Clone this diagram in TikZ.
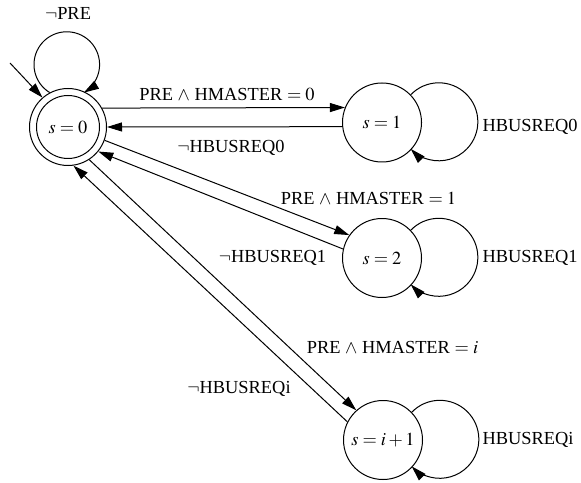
\documentclass[tikz,border=0pt]{standalone}
\usepackage{mathptmx}
\usepackage{fontspec}
\setmainfont{Liberation Serif}
\usetikzlibrary{arrows.meta}
\begin{document}
\begin{tikzpicture}[x=0.5pt,y=0.5pt,
  line width=0.5pt,
  every node/.style={font=\fontsize{9.2pt}{11pt}\selectfont},
  state/.style={circle,draw,line width=0.5pt,minimum size=39.5pt,inner sep=0pt},
  tip/.style={-{Triangle[length=7.5pt,width=4.5pt]}},
  lbl/.style={inner sep=0pt}]
\useasboundingbox (0,0) rectangle (581,482);
% states
\node[state,minimum size=38.5pt] (s0) at (68,355) {$s=0$};
\draw (s0.center) circle[radius=15.75pt];
\node[state] (s1) at (382,359.5) {$s=1$};
\node[state] (s2) at (382,224) {$s=2$};
\node[state] (s3) at (383,42) {$s=i+1$};
% initial arrow
\coordinate (init) at (10,419);
\draw[tip] (init) -- (s0.131);
% self loops
\draw[tip] (s0.118) arc[start angle=238.6, end angle=-58.6, radius=16.4pt];
\draw[tip] (s1.44) arc[start angle=136, end angle=-136, radius=19.5pt];
\draw[tip] (s2.44) arc[start angle=136, end angle=-136, radius=19.5pt];
\draw[tip] (s3.44) arc[start angle=136, end angle=-136, radius=19.5pt];
% transitions
\draw[tip] (s0.29.6) -- (s1.158.5);
\draw[tip] (s1.186.5) -- (s0.0);
\draw[tip] (s0.-20.6) -- (s2.145);
\draw[tip] (s2.167) -- (s0.-39.3);
\draw[tip] (s0.-57.8) -- (s3.132);
\draw[tip] (s3.153) -- (s0.-82);
% labels
\node[lbl] (l0) at (68,469) {$\neg$PRE};
\node[lbl] (l1) at (227,388) {PRE $\wedge$ HMASTER $=0$};
\node[lbl] (l2) at (231,334) {$\neg$HBUSREQ0};
\node[lbl] (l3) at (368.5,284) {PRE $\wedge$ HMASTER $=1$};
\node[lbl] (l4) at (272.5,224) {$\neg$HBUSREQ1};
\node[lbl] (l5) at (392.5,134) {PRE $\wedge$ HMASTER $=i$};
\node[lbl] (l6) at (239,93) {$\neg$HBUSREQi};
\node[lbl,anchor=west] (l7) at (482,355) {HBUSREQ0};
\node[lbl,anchor=west] (l8) at (482,224) {HBUSREQ1};
\node[lbl,anchor=west] (l9) at (482,42) {HBUSREQi};
\end{tikzpicture}
\end{document}
